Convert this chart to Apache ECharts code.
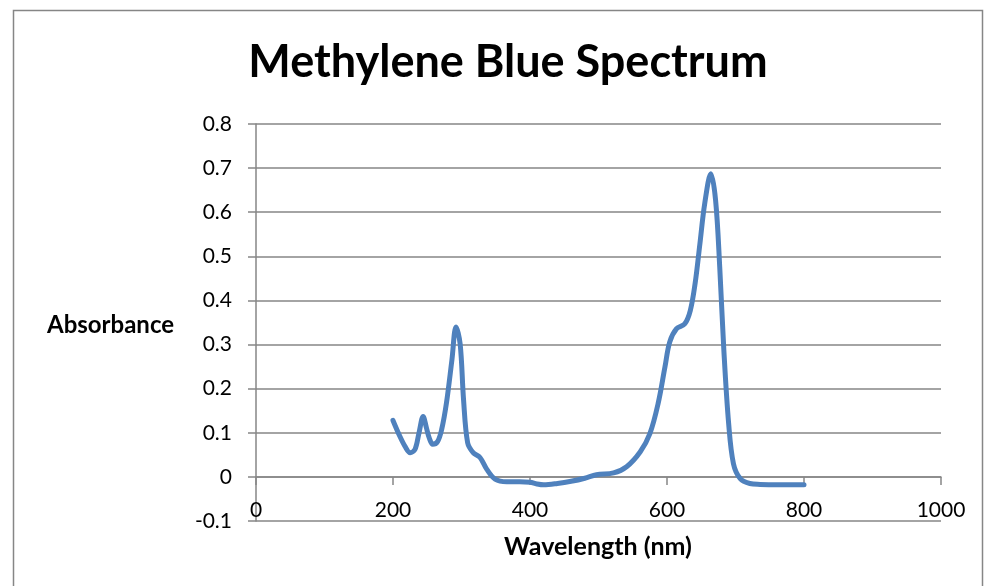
<!DOCTYPE html>
<html>
<head>
<meta charset="utf-8">
<script src="https://cdn.jsdelivr.net/npm/echarts@6/dist/echarts.min.js"></script>
<style>
html,body{margin:0;padding:0;background:#fff;}
#chart{width:985px;height:586px;}
</style>
</head>
<body>
<div id="chart"></div>
<script>
// Data (wavelength in nm, absorbance)
const wavelength = [200,210,218,225,232,238,244,249,253,258,265,271,278,286,292,298,303,309,317,327,337,349,366,385,400,410,420,440,460,480,497,522,541,561,575,587,597,604,614,626,634,641,648,655,664,671,677,683,690,697,707,721,736,760,780,800];
const absorbance = [0.128,0.092,0.068,0.055,0.062,0.100,0.137,0.110,0.088,0.074,0.080,0.107,0.167,0.265,0.340,0.302,0.175,0.077,0.055,0.044,0.017,-0.005,-0.011,-0.011,-0.012,-0.016,-0.018,-0.015,-0.010,-0.003,0.005,0.009,0.023,0.057,0.098,0.166,0.249,0.306,0.336,0.347,0.377,0.438,0.528,0.619,0.687,0.626,0.475,0.287,0.121,0.030,-0.004,-0.015,-0.017,-0.018,-0.018,-0.018];
const titleText = 'Methylene Blue Spectrum';
const xTitle = 'Wavelength (nm)';
const yTitle = 'Absorbance';
const xMin = 0, xMax = 1000, xStep = 200;
const yMin = -0.1, yMax = 0.8, yStep = 0.1;

const points = wavelength.map((w, i) => [w, absorbance[i]]);
const FONT = 'Lato';
const chart = echarts.init(document.getElementById('chart'), null, {renderer: 'canvas'});
chart.setOption({
  animation: false,
  backgroundColor: '#fff',
  title: {
    text: titleText,
    left: 503, top: 35, textAlign: 'center',
    textStyle: {fontFamily: FONT, fontWeight: 'bold', fontSize: 45, color: '#000'}
  },
  grid: {left: 256, right: 44, top: 124, bottom: 65, containLabel: false},
  xAxis: [{
    type: 'value', min: xMin, max: xMax, interval: xStep,
    axisLine: {show: true, onZero: true, lineStyle: {color: '#868686', width: 1.5}},
    axisTick: {show: true, inside: false, length: 8, lineStyle: {color: '#868686', width: 1.5}},
    axisLabel: {show: false},
    splitLine: {show: false}
  }, {
    type: 'value', min: xMin, max: xMax, interval: xStep, position: 'bottom',
    axisLine: {show: false, onZero: false},
    axisTick: {show: false},
    axisLabel: {show: true, margin: -21, fontFamily: FONT, fontSize: 21, color: '#000',
      formatter: v => String(v)},
    splitLine: {show: false}
  }],
  yAxis: {
    type: 'value', min: yMin, max: yMax, interval: yStep,
    axisLine: {show: true, onZero: false, lineStyle: {color: '#868686', width: 1.5}},
    axisTick: {show: true, inside: false, length: 8, lineStyle: {color: '#868686', width: 1.5}},
    axisLabel: {margin: 24, fontFamily: FONT, fontSize: 21, color: '#000',
      formatter: v => String(Math.round(v * 10) / 10)},
    splitLine: {show: true, lineStyle: {color: '#868686', width: 1.5}}
  },
  series: [{
    type: 'line', xAxisIndex: 0, data: points,
    smooth: 0.35, showSymbol: false, symbol: 'none',
    lineStyle: {color: '#4F81BD', width: 5, cap: 'round', join: 'round'}
  }],
  graphic: [
    {type: 'polyline', silent: true, shape: {points: [[13.5, 600], [13.5, 10.5], [982.5, 10.5], [982.5, 600]]},
     style: {stroke: '#868686', lineWidth: 1.5, fill: null}},
    {type: 'text', x: 47, y: 325, style: {text: yTitle, fontFamily: FONT, fontWeight: 'bold', fontSize: 24, fill: '#000', verticalAlign: 'middle'}},
    {type: 'text', x: 598, y: 547, style: {text: xTitle, fontFamily: FONT, fontWeight: 'bold', fontSize: 25, fill: '#000', align: 'center', verticalAlign: 'middle'}}
  ]
});
</script>
</body>
</html>
